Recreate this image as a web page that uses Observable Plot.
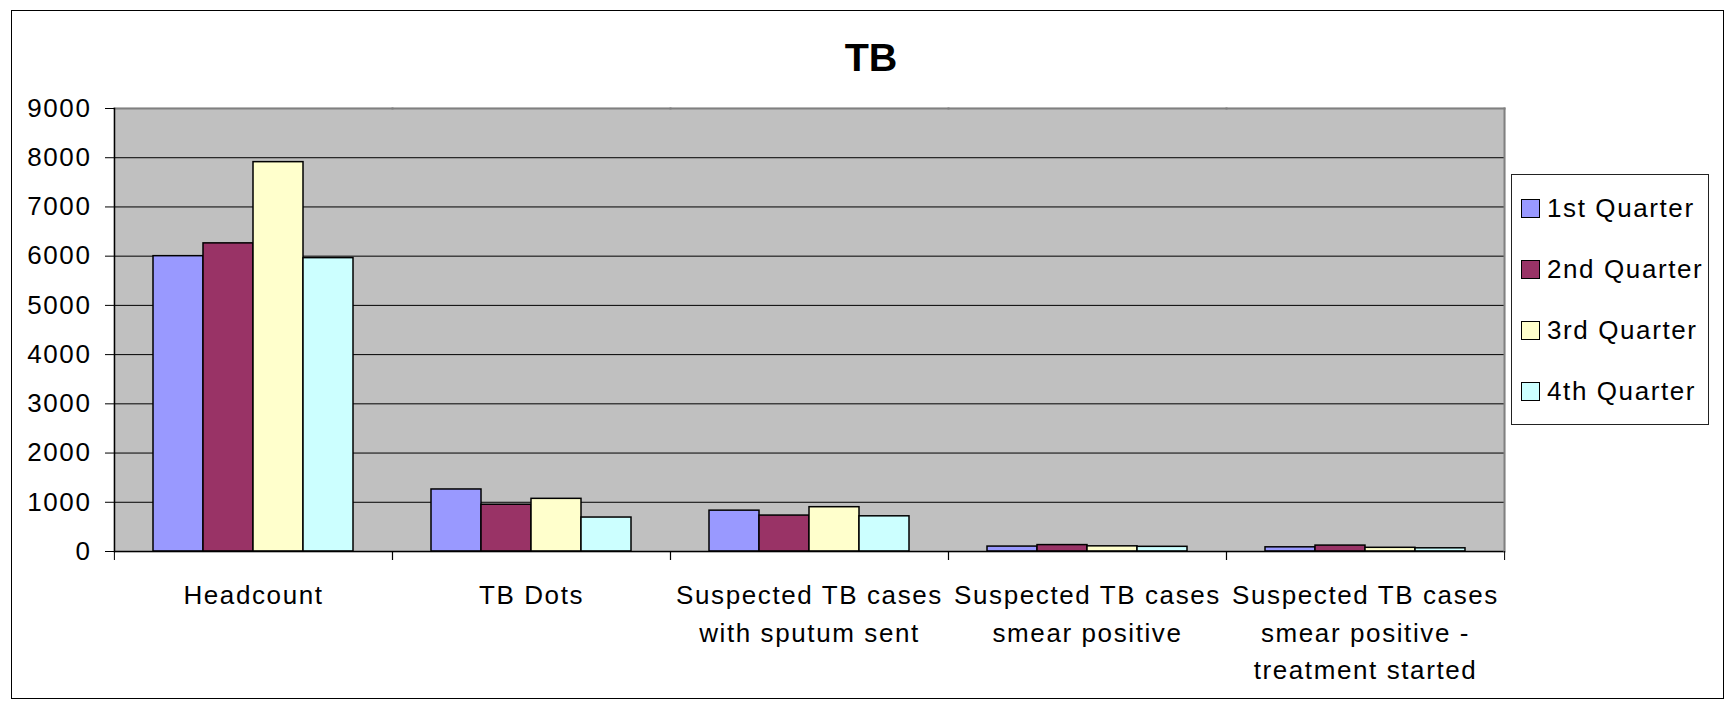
<!DOCTYPE html>
<html>
<head>
<meta charset="utf-8">
<script src="https://cdn.jsdelivr.net/npm/d3@7"></script>
<script src="https://cdn.jsdelivr.net/npm/@observablehq/plot@0.6"></script>
<style>
  html, body { margin: 0; padding: 0; background: #fff; }
  #wrap { position: relative; width: 1727px; height: 701px; overflow: hidden; font-family: Arial, "Liberation Sans", sans-serif; }
  #chart { position: absolute; left: 0; top: 0; }
  #border { position: absolute; left: 11px; top: 10px; width: 1711px; height: 687px; border: 1px solid #000; pointer-events: none; }
  #title { position: absolute; left: 771px; width: 200px; top: 37px; text-align: center; font-weight: bold; font-size: 39.5px; line-height: 40px; color: #000; }
  #legend { position: absolute; left: 1511px; top: 174px; width: 196px; height: 246px; border: 1px solid #222; box-sizing: content-box; padding-top: 3px; }
  .item { display: flex; align-items: center; height: 61px; font-size: 26px; letter-spacing: 1.6px; color: #000; }
  .sw { width: 17px; height: 17px; border: 1.5px solid #000; margin-left: 9px; margin-right: 7px; flex: none; }
</style>
</head>
<body>
<div id="wrap">
  <div id="chart"></div>
  <div id="title"></div>
  <div id="legend"></div>
  <div id="border"></div>
</div>
<script>
// ---- data ----
const titleText = "TB";
const categories = [
  "Headcount",
  "TB Dots",
  "Suspected TB cases with sputum sent",
  "Suspected TB cases smear positive",
  "Suspected TB cases smear positive - treatment started"
];
const categoryLabels = [
  "Headcount",
  "TB Dots",
  "Suspected TB cases\nwith sputum sent",
  "Suspected TB cases\nsmear positive",
  "Suspected TB cases\nsmear positive -\ntreatment started"
];
const quarters = ["1st Quarter", "2nd Quarter", "3rd Quarter", "4th Quarter"];
const q1Values = [6000, 1260, 830, 100, 85];
const q2Values = [6260, 950, 730, 130, 120];
const q3Values = [7910, 1070, 900, 105, 75];
const q4Values = [5960, 690, 715, 95, 65];
const quarterColors = ["#9999FF", "#993366", "#FFFFCC", "#CCFFFF"];
const yTicks = [0, 1000, 2000, 3000, 4000, 5000, 6000, 7000, 8000, 9000];
const gridTicks = [1000, 2000, 3000, 4000, 5000, 6000, 7000, 8000];

// ---- table built from arrays ----
const seriesValues = [q1Values, q2Values, q3Values, q4Values];
const rows = [];
categories.forEach((c, i) => {
  quarters.forEach((q, j) => rows.push({category: c, quarter: q, value: seriesValues[j][i]}));
});
const labelOf = new Map(categories.map((c, i) => [c, categoryLabels[i]]));

const W = 1727, ML = 113, MR = 223;
const halfStep = (W - ML - MR) / categories.length / 2; // category boundary offset for tick marks

const chart = Plot.plot({
  width: W,
  height: 701,
  marginLeft: ML,
  marginRight: MR,
  marginTop: 108,
  marginBottom: 150,
  style: {
    fontFamily: 'Arial, "Liberation Sans", sans-serif',
    fontSize: "26px",
    letterSpacing: "1.6px",
    color: "#000",
    background: "transparent",
    overflow: "visible"
  },
  fx: {domain: categories, padding: 0, paddingInner: 0, paddingOuter: 0, label: null},
  x: {domain: quarters, paddingInner: 0, paddingOuter: 0.75, axis: null},
  y: {domain: [0, 9000]},
  color: {domain: quarters, range: quarterColors},
  marks: [
    Plot.frame({fill: "#C0C0C0", stroke: "#C0C0C0", strokeWidth: 1.5}),
    Plot.ruleY(gridTicks, {stroke: "#000", strokeWidth: 1}),
    Plot.frame({anchor: "top", stroke: "#808080", strokeWidth: 2}),
    Plot.barY(rows, {fx: "category", x: "quarter", y: "value", fill: "quarter", stroke: "#000", strokeWidth: 1.5}),
    Plot.ruleY([0], {stroke: "#000", strokeWidth: 1.5}),
    Plot.frame({anchor: "left", facetAnchor: "left", stroke: "#000", strokeWidth: 1.5}),
    Plot.frame({anchor: "right", facetAnchor: "right", stroke: "#808080", strokeWidth: 2}),
    Plot.axisY({ticks: yTicks, tickFormat: "d", tickSize: 9, tickPadding: 14, label: null, stroke: "#000"}),
    // tick marks at category boundaries (Excel style)
    Plot.axisFx({anchor: "bottom", tickSize: 9, tickFormat: () => "", label: null, dx: -halfStep, stroke: "#000"}),
    Plot.axisFx({anchor: "bottom", tickSize: 9, tickFormat: () => "", label: null, dx: halfStep, stroke: "#000"}),
    // category labels
    Plot.axisFx({anchor: "bottom", tickSize: 0, tickPadding: 26, label: null, lineHeight: 1.44, tickFormat: d => labelOf.get(d)})
  ]
});
document.getElementById("chart").appendChild(chart);

document.getElementById("title").textContent = titleText;
const legend = document.getElementById("legend");
quarters.forEach((q, j) => {
  const it = document.createElement("div");
  it.className = "item";
  const sw = document.createElement("span");
  sw.className = "sw";
  sw.style.background = quarterColors[j];
  const tx = document.createElement("span");
  tx.textContent = q;
  it.appendChild(sw);
  it.appendChild(tx);
  legend.appendChild(it);
});
</script>
</body>
</html>
